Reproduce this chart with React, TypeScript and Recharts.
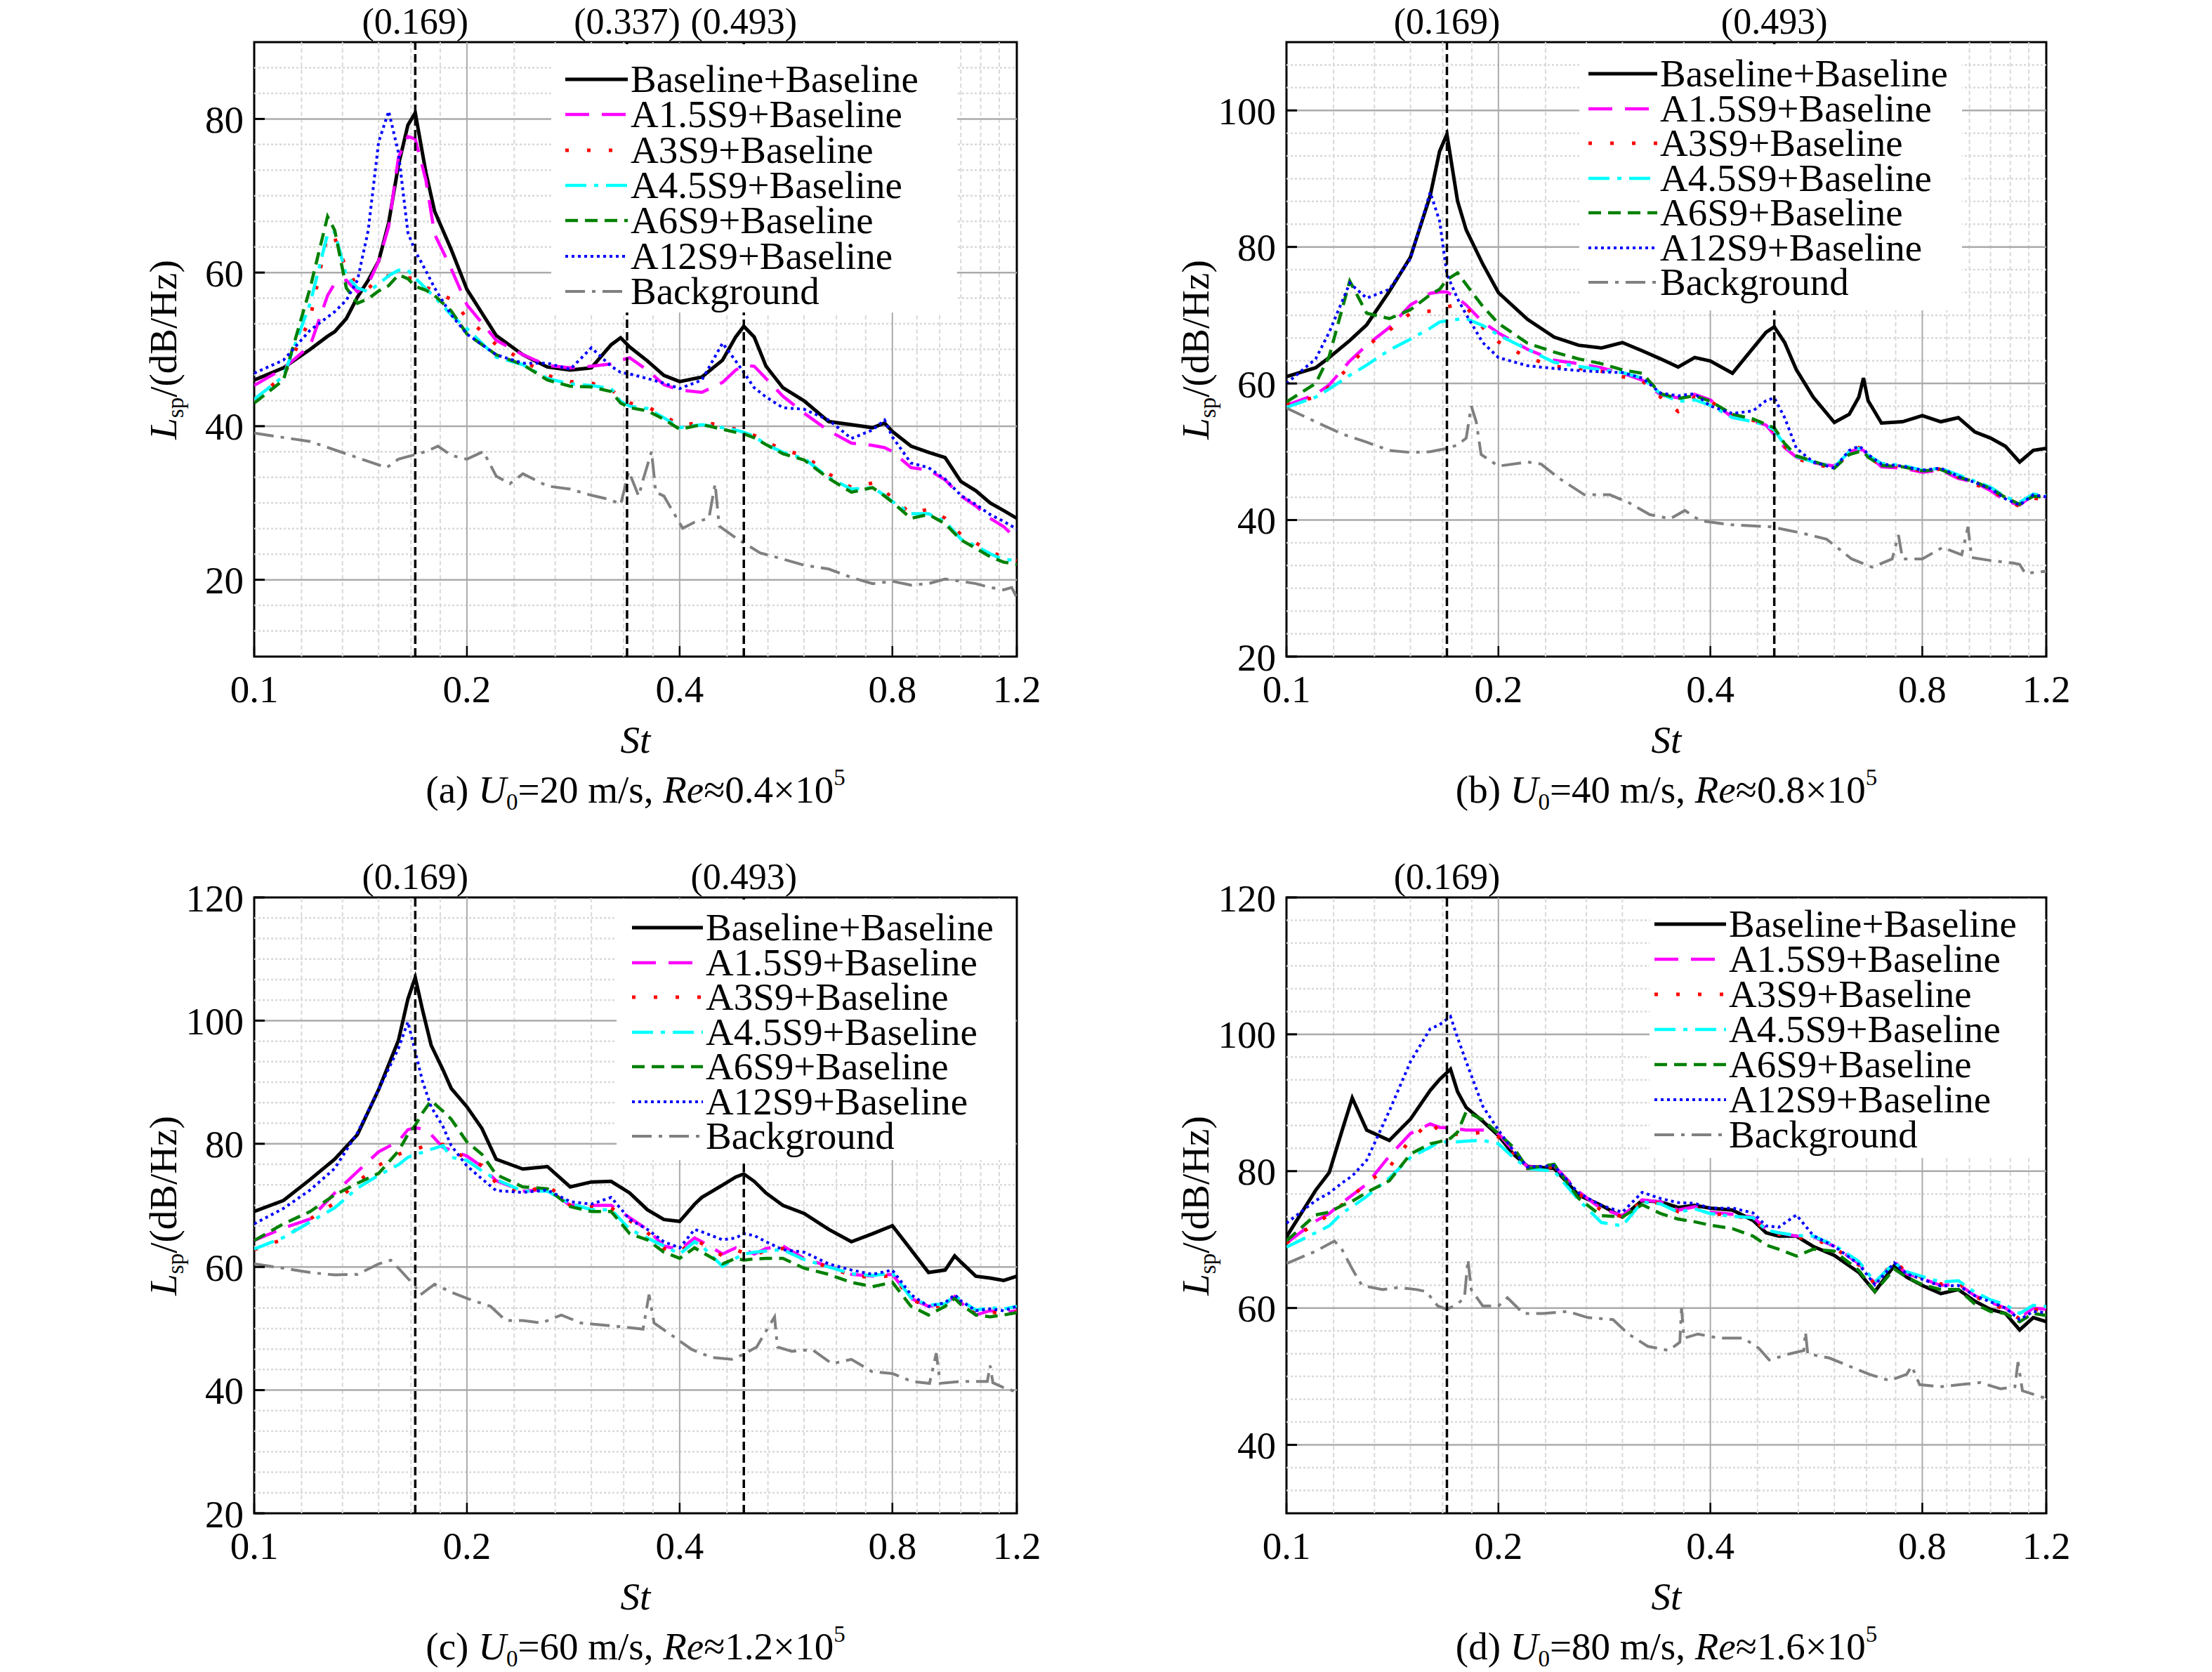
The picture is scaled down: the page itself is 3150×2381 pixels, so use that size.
import React from 'react';
import { LineChart, Line, XAxis, YAxis, ReferenceLine, ReferenceArea } from 'recharts';

const FONT = "'Liberation Serif', 'Times New Roman', Times, serif";

// ---------------- shared axis values ----------------
const X_TICKS = [0.1, 0.2, 0.4, 0.8, 1.2];
const X_MAJOR_GRID = [0.2, 0.4, 0.8];

const SERIES_NAMES = [
  'Baseline+Baseline',
  'A1.5S9+Baseline',
  'A3S9+Baseline',
  'A4.5S9+Baseline',
  'A6S9+Baseline',
  'A12S9+Baseline',
  'Background',
];

// ---------------- (a) U0 = 20 m/s ----------------
const ST_A = [0.1, 0.11, 0.12, 0.127, 0.13, 0.135, 0.14, 0.145, 0.15, 0.155, 0.16, 0.165, 0.169, 0.175, 0.18, 0.19, 0.2, 0.22, 0.24, 0.26, 0.28, 0.3, 0.32, 0.33, 0.34, 0.36, 0.38, 0.4, 0.43, 0.46, 0.48, 0.493, 0.51, 0.53, 0.56, 0.6, 0.65, 0.7, 0.75, 0.78, 0.8, 0.85, 0.9, 0.95, 1.0, 1.05, 1.1, 1.15, 1.2];
const A_BASE = [46.0, 47.6, 50.0, 51.7, 52.3, 54.0, 56.8, 59.0, 61.5, 66.5, 74.0, 79.2, 80.8, 73.0, 68.0, 63.0, 57.8, 51.8, 49.3, 47.7, 47.3, 47.6, 50.6, 51.5, 50.3, 48.5, 46.6, 45.8, 46.4, 48.6, 51.6, 53.0, 51.6, 47.8, 45.0, 43.3, 40.6, 40.2, 39.8, 40.4, 39.3, 37.4, 36.6, 35.9, 32.8, 31.6, 30.0, 29.0, 28.0];
const A_A15 = [45.3, 47.5, 50.5, 57.0, 58.6, 59.0, 57.5, 58.5, 61.5, 66.0, 75.0, 77.7, 77.4, 72.0, 65.0, 60.5, 55.8, 51.2, 49.3, 47.9, 47.6, 47.8, 48.1, 48.6, 48.9, 47.3, 45.4, 44.7, 44.4, 45.7, 47.3, 47.9, 47.8, 46.2, 43.9, 41.7, 39.4, 37.8, 37.5, 37.2, 36.7, 34.6, 34.3, 33.0, 30.9, 29.6, 28.0, 26.9, 25.3];
const A_A3 = [43.5, 46.5, 54.0, 65.0, 64.5, 60.5, 58.2, 57.9, 59.3, 59.6, 59.4, 59.3, 59.2, 58.1, 57.6, 56.5, 54.1, 50.6, 48.6, 46.6, 45.8, 45.6, 44.8, 43.6, 43.0, 42.5, 41.4, 40.1, 40.5, 40.1, 39.6, 39.3, 38.8, 38.0, 36.9, 36.2, 33.8, 32.0, 32.6, 31.5, 30.7, 28.6, 29.2, 28.0, 25.9, 24.8, 23.7, 22.9, 22.5];
const A_A45 = [43.5, 46.5, 56.0, 65.0, 65.3, 59.6, 58.0, 57.5, 58.5, 59.6, 60.3, 60.3, 59.3, 57.9, 56.8, 54.5, 52.7, 49.0, 48.0, 46.2, 45.5, 45.3, 44.9, 43.2, 42.6, 42.3, 41.1, 39.8, 40.2, 39.8, 39.5, 39.2, 38.7, 37.6, 36.6, 35.8, 33.3, 31.8, 32.0, 31.0, 30.2, 28.6, 28.6, 27.6, 25.3, 24.4, 23.4, 22.6, 22.6];
const A_A6 = [43.0, 46.0, 58.0, 67.3, 65.5, 58.0, 56.0, 56.6, 57.6, 58.3, 59.7, 59.2, 58.2, 57.7, 57.0, 55.0, 52.0, 49.3, 48.0, 46.0, 45.2, 45.1, 44.5, 43.0, 42.4, 42.0, 40.9, 39.6, 40.2, 39.6, 39.2, 39.0, 38.5, 37.6, 36.4, 35.6, 33.2, 31.4, 32.0, 30.9, 30.1, 28.0, 28.5, 27.3, 25.2, 24.1, 23.0, 22.3, 22.0];
const A_A12 = [46.9, 48.6, 52.5, 54.2, 54.9, 56.4, 59.0, 65.5, 77.0, 81.0, 75.6, 65.2, 62.8, 60.2, 58.0, 54.5, 52.0, 49.3, 48.2, 48.2, 47.4, 50.2, 47.8, 47.0, 46.8, 46.2, 45.6, 44.9, 46.0, 50.8, 48.5, 47.0, 45.0, 43.8, 42.4, 42.2, 40.8, 38.4, 39.5, 40.8, 38.6, 35.2, 34.6, 33.1, 31.0, 29.8, 28.5, 27.6, 26.6];
const BG_ST_A = [0.1, 0.12, 0.14, 0.154, 0.16, 0.169, 0.175, 0.182, 0.19, 0.2, 0.211, 0.22, 0.23, 0.24, 0.26, 0.28, 0.3, 0.32, 0.33, 0.339, 0.35, 0.355, 0.365, 0.37, 0.38, 0.404, 0.42, 0.44, 0.449, 0.455, 0.483, 0.52, 0.56, 0.6, 0.65, 0.7, 0.75, 0.8, 0.85, 0.9, 0.95, 1.0, 1.05, 1.1, 1.15, 1.18, 1.2];
const BG_A = [39.1, 38.0, 35.9, 34.6, 35.7, 36.3, 36.7, 37.4, 36.2, 35.7, 36.7, 33.5, 32.5, 33.8, 32.2, 31.8, 31.0, 30.4, 29.8, 34.1, 30.9, 33.0, 36.7, 31.4, 30.9, 26.7, 27.5, 28.0, 32.5, 27.0, 25.3, 23.5, 22.7, 21.9, 21.4, 20.3, 19.5, 19.8, 19.3, 19.5, 20.1, 19.8, 19.5, 19.0, 18.7, 19.0, 17.7];
const Y_TICKS_A = [20, 40, 60, 80];
const MARKERS_A = [0.169, 0.337, 0.493];

// ---------------- (b) U0 = 40 m/s ----------------
const ST_B = [0.1, 0.11, 0.115, 0.123, 0.13, 0.14, 0.15, 0.16, 0.165, 0.169, 0.175, 0.18, 0.19, 0.2, 0.22, 0.24, 0.26, 0.28, 0.3, 0.32, 0.34, 0.36, 0.38, 0.4, 0.43, 0.46, 0.48, 0.493, 0.51, 0.53, 0.56, 0.6, 0.63, 0.65, 0.66, 0.67, 0.7, 0.75, 0.8, 0.85, 0.9, 0.95, 1.0, 1.05, 1.1, 1.15, 1.2];
const B_BASE = [61.0, 62.3, 63.8, 66.3, 68.6, 73.5, 78.5, 87.5, 94.0, 96.5, 86.7, 82.5, 77.5, 73.3, 69.4, 66.8, 65.6, 65.2, 66.0, 64.8, 63.6, 62.4, 63.8, 63.3, 61.5, 65.2, 67.5, 68.3, 66.0, 62.0, 58.0, 54.3, 55.5, 58.0, 60.8, 57.5, 54.2, 54.4, 55.3, 54.4, 55.0, 52.9, 52.0, 50.8, 48.5, 50.2, 50.5];
const B_A15 = [56.8, 58.4, 59.8, 63.3, 65.6, 68.2, 71.5, 73.2, 73.4, 73.4, 72.5, 71.5, 69.0, 67.4, 65.0, 63.4, 62.9, 62.3, 61.5, 60.5, 58.3, 57.9, 58.4, 57.6, 55.0, 54.5, 53.9, 52.5, 50.6, 49.2, 48.4, 47.9, 50.0, 50.4, 50.2, 49.5, 47.8, 47.6, 47.0, 47.3, 46.1, 45.5, 44.3, 42.8, 42.2, 43.7, 43.4];
const B_A3 = [57.0, 58.0, 59.5, 62.5, 65.5, 67.8, 70.3, 70.6, 70.7, 71.2, 71.6, 71.2, 68.2, 66.1, 63.8, 62.5, 62.2, 61.8, 61.0, 60.4, 58.0, 55.9, 58.0, 57.4, 55.3, 54.6, 54.0, 53.0, 50.8, 49.0, 48.2, 47.6, 49.8, 50.6, 50.0, 49.2, 48.0, 47.9, 47.1, 47.5, 46.3, 45.2, 44.5, 43.0, 42.0, 43.2, 43.0];
const B_A45 = [56.5, 58.0, 59.2, 61.2, 62.7, 64.9, 66.5, 68.1, 69.0, 69.2, 69.4, 69.5, 68.5, 67.1, 65.0, 63.1, 62.5, 62.0, 61.6, 60.8, 58.5, 57.4, 57.6, 56.8, 55.0, 54.4, 53.9, 53.2, 51.0, 49.3, 48.5, 47.8, 50.0, 50.5, 50.0, 49.5, 48.3, 48.0, 47.3, 47.6, 46.6, 45.7, 44.8, 43.4, 42.6, 43.8, 43.6];
const B_A6 = [57.3, 60.0, 64.0, 75.0, 70.3, 69.5, 70.8, 73.0, 73.8, 75.2, 76.2, 74.5, 71.3, 68.8, 65.9, 64.6, 63.6, 62.9, 62.0, 61.5, 58.5, 57.8, 58.2, 57.4, 55.5, 54.8, 54.0, 53.5, 51.2, 49.4, 48.6, 47.6, 49.6, 50.0, 50.0, 49.2, 48.0, 47.8, 47.2, 47.4, 46.3, 45.6, 44.6, 43.3, 42.3, 43.5, 43.3];
const B_A12 = [60.0, 63.6, 67.5, 74.7, 72.5, 73.8, 78.3, 88.0, 83.8, 76.0, 72.4, 70.1, 66.0, 63.8, 62.6, 62.2, 61.9, 61.7, 61.6, 60.8, 58.6, 58.2, 58.5, 56.7, 55.6, 56.0, 57.5, 57.9, 55.0, 50.5, 48.5, 47.6, 50.2, 50.8, 50.4, 49.6, 48.2, 47.9, 47.3, 47.6, 46.4, 45.5, 44.6, 43.1, 42.2, 43.7, 43.4];
const BG_ST_B = [0.1, 0.11, 0.12, 0.13, 0.14, 0.15, 0.16, 0.169, 0.175, 0.18, 0.183, 0.186, 0.189, 0.2, 0.22, 0.23, 0.244, 0.265, 0.288, 0.307, 0.328, 0.351, 0.368, 0.387, 0.428, 0.488, 0.539, 0.585, 0.635, 0.679, 0.725, 0.74, 0.75, 0.8, 0.855, 0.91, 0.929, 0.94, 1.01, 1.077, 1.1, 1.12, 1.2];
const BG_B = [56.4, 54.4, 52.6, 51.4, 50.2, 49.9, 50.0, 50.5, 51.0, 52.0, 56.7, 54.4, 49.6, 47.9, 48.5, 48.2, 46.1, 43.7, 43.7, 42.5, 40.8, 40.2, 41.4, 39.9, 39.3, 39.0, 38.1, 37.2, 34.3, 33.1, 34.3, 37.8, 34.3, 34.3, 36.0, 34.9, 39.0, 34.5, 34.0, 33.7, 33.5, 32.2, 32.5];
const Y_TICKS_B = [20, 40, 60, 80, 100];
const MARKERS_B = [0.169, 0.493];

// ---------------- (c) U0 = 60 m/s ----------------
const ST_C = [0.1, 0.11, 0.12, 0.13, 0.14, 0.15, 0.16, 0.165, 0.169, 0.173, 0.178, 0.185, 0.19, 0.2, 0.21, 0.22, 0.24, 0.26, 0.28, 0.3, 0.32, 0.34, 0.36, 0.38, 0.4, 0.42, 0.43, 0.46, 0.48, 0.493, 0.51, 0.53, 0.56, 0.6, 0.65, 0.7, 0.75, 0.8, 0.85, 0.9, 0.95, 0.98, 1.0, 1.05, 1.1, 1.15, 1.2];
const C_BASE = [69.0, 70.8, 74.2, 77.5, 81.5, 88.8, 96.8, 103.5, 107.0, 101.8, 96.0, 92.0, 89.0, 86.0, 82.5, 77.5, 75.9, 76.3, 73.0, 73.8, 73.9, 72.0, 69.3, 67.7, 67.4, 70.2, 71.3, 73.3, 74.6, 75.1, 73.9, 72.0, 70.0, 68.7, 66.1, 64.1, 65.4, 66.7, 62.8, 59.1, 59.5, 61.8, 60.8, 58.5, 58.2, 57.8, 58.5];
const C_A15 = [64.3, 66.3, 67.8, 72.0, 75.5, 78.7, 80.4, 82.3, 82.6, 82.4, 81.5, 79.4, 79.0, 78.0, 76.3, 74.0, 72.3, 72.6, 70.0, 70.0, 70.0, 68.0, 66.1, 63.4, 62.8, 64.7, 64.1, 62.1, 63.1, 62.8, 62.1, 63.0, 63.4, 61.4, 60.1, 58.8, 58.5, 58.8, 54.9, 53.6, 54.0, 55.2, 54.2, 52.2, 52.9, 52.6, 52.9];
const C_A3 = [62.8, 64.5, 67.8, 70.4, 73.8, 76.5, 78.3, 78.8, 79.1, 79.5, 79.8, 79.9, 79.0, 77.6, 76.5, 73.6, 72.0, 73.3, 70.0, 69.8, 69.6, 67.5, 65.6, 63.0, 62.4, 64.5, 63.8, 61.8, 62.8, 62.3, 62.0, 62.6, 63.0, 61.2, 60.0, 58.6, 58.3, 58.6, 54.8, 53.4, 53.8, 55.0, 54.0, 52.4, 52.7, 52.4, 52.7];
const C_A45 = [62.9, 64.8, 67.3, 69.6, 72.8, 74.9, 76.6, 77.8, 78.3, 78.6, 79.1, 79.7, 77.8, 77.3, 75.6, 74.2, 72.3, 72.3, 70.3, 69.3, 69.3, 66.1, 64.7, 63.4, 62.1, 64.1, 63.4, 60.1, 61.4, 62.1, 62.4, 62.6, 62.8, 61.2, 60.0, 58.9, 58.6, 59.0, 55.0, 53.8, 54.0, 55.4, 54.6, 53.0, 53.4, 53.2, 53.6];
const C_A6 = [64.3, 67.0, 69.0, 71.7, 73.6, 75.2, 78.8, 81.5, 83.0, 85.0, 87.0, 85.3, 84.0, 80.3, 78.3, 75.0, 73.0, 72.7, 69.8, 69.0, 69.0, 65.4, 64.4, 62.4, 61.4, 63.1, 62.4, 60.5, 61.4, 61.1, 61.3, 61.4, 61.4, 59.8, 58.8, 57.5, 56.8, 57.5, 53.6, 52.2, 53.6, 54.9, 53.9, 52.2, 51.9, 52.2, 52.6];
const C_A12 = [67.0, 69.5, 72.5, 76.0, 81.8, 88.8, 95.5, 99.8, 95.0, 90.2, 86.0, 82.8, 79.7, 76.4, 74.3, 72.4, 72.1, 72.5, 70.6, 70.2, 71.3, 67.7, 66.1, 64.1, 63.1, 66.1, 65.7, 64.4, 64.7, 65.4, 65.1, 64.1, 62.8, 62.4, 60.5, 59.5, 58.8, 59.5, 55.5, 53.6, 54.2, 55.5, 54.5, 52.9, 53.2, 52.9, 53.6];
const BG_ST_C = [0.1, 0.11, 0.12, 0.13, 0.14, 0.15, 0.156, 0.16, 0.166, 0.169, 0.172, 0.18, 0.19, 0.2, 0.216, 0.227, 0.24, 0.255, 0.272, 0.29, 0.31, 0.33, 0.355, 0.362, 0.368, 0.39, 0.416, 0.444, 0.474, 0.49, 0.514, 0.545, 0.55, 0.577, 0.616, 0.657, 0.7, 0.749, 0.8, 0.853, 0.903, 0.923, 0.935, 1.0, 1.09, 1.1, 1.11, 1.15, 1.2];
const BG_C = [60.5, 59.8, 59.1, 58.7, 58.8, 60.5, 61.1, 59.8, 57.8, 56.8, 55.5, 57.2, 55.9, 54.9, 53.6, 51.3, 51.3, 50.9, 52.2, 50.9, 50.6, 50.3, 49.9, 55.5, 50.9, 48.9, 46.6, 45.3, 45.0, 45.7, 47.0, 51.9, 47.0, 46.3, 46.6, 44.3, 45.0, 43.0, 42.7, 41.4, 41.1, 46.0, 41.1, 41.4, 41.4, 44.0, 41.2, 40.4, 39.7];
const Y_TICKS_C = [20, 40, 60, 80, 100, 120];
const MARKERS_C = [0.169, 0.493];

// ---------------- (d) U0 = 80 m/s ----------------
const ST_D = [0.1, 0.11, 0.115, 0.12, 0.124, 0.13, 0.14, 0.15, 0.16, 0.165, 0.171, 0.175, 0.18, 0.19, 0.2, 0.21, 0.22, 0.24, 0.26, 0.28, 0.3, 0.32, 0.34, 0.36, 0.38, 0.4, 0.43, 0.46, 0.48, 0.5, 0.53, 0.56, 0.6, 0.65, 0.685, 0.73, 0.76, 0.8, 0.85, 0.9, 0.95, 1.0, 1.05, 1.1, 1.15, 1.2];
const D_BASE = [70.4, 77.2, 79.8, 86.0, 90.7, 86.0, 84.5, 87.6, 91.8, 93.4, 94.9, 91.6, 89.3, 87.3, 85.2, 82.5, 80.7, 80.4, 76.5, 75.0, 73.3, 75.7, 75.5, 74.7, 75.0, 74.6, 74.3, 72.8, 71.0, 70.5, 70.5, 69.0, 67.7, 65.2, 62.4, 66.2, 64.5, 63.3, 62.1, 62.7, 61.0, 59.8, 59.2, 56.8, 58.6, 58.0];
const D_A15 = [69.5, 72.7, 73.8, 75.4, 76.5, 78.1, 82.2, 85.5, 86.9, 86.4, 86.3, 86.2, 86.0, 86.0, 85.5, 83.0, 80.6, 80.8, 77.0, 74.5, 73.5, 75.8, 75.5, 74.3, 74.8, 74.0, 73.7, 73.3, 71.5, 71.0, 70.5, 70.4, 69.0, 66.5, 63.6, 66.8, 65.0, 64.3, 63.3, 63.5, 61.8, 60.8, 60.0, 58.5, 60.0, 59.8];
const D_A3 = [69.5, 72.4, 73.6, 75.1, 76.3, 78.3, 80.6, 84.6, 87.2, 85.8, 85.4, 85.4, 85.4, 85.7, 85.0, 82.5, 80.4, 80.6, 76.7, 74.3, 73.3, 75.6, 75.3, 74.1, 74.6, 73.8, 73.5, 73.0, 71.3, 70.8, 70.3, 70.2, 68.8, 66.3, 63.5, 66.9, 65.2, 64.5, 63.5, 63.7, 61.7, 60.6, 59.8, 58.4, 59.8, 59.6];
const D_A45 = [68.9, 71.0, 72.0, 73.9, 74.8, 76.3, 79.0, 82.0, 83.5, 84.3, 84.3, 84.3, 84.4, 84.5, 84.0, 82.0, 80.4, 80.0, 75.8, 72.5, 72.0, 75.5, 75.2, 74.0, 74.5, 73.8, 73.4, 73.2, 71.4, 71.0, 70.6, 70.5, 69.2, 66.8, 63.8, 66.6, 65.3, 64.6, 63.8, 64.0, 62.3, 61.2, 60.5, 59.2, 60.4, 60.2];
const D_A6 = [69.8, 73.6, 74.0, 75.0, 75.6, 76.9, 78.6, 82.5, 84.0, 84.3, 84.8, 85.7, 88.7, 87.5, 85.5, 83.5, 80.4, 81.0, 76.0, 73.5, 73.3, 75.1, 73.8, 73.0, 72.6, 72.1, 71.6, 70.5, 69.2, 68.6, 67.6, 68.6, 68.3, 65.5, 62.4, 65.7, 64.5, 63.4, 62.7, 62.7, 60.6, 59.5, 59.2, 58.0, 59.2, 58.9];
const D_A12 = [72.4, 75.7, 76.8, 78.3, 79.3, 81.6, 88.8, 96.0, 100.8, 101.4, 102.6, 99.5, 96.0, 89.5, 86.0, 83.0, 80.6, 80.8, 76.8, 75.0, 74.0, 76.9, 76.0, 75.4, 75.3, 74.6, 74.6, 73.9, 72.0, 71.8, 73.6, 70.6, 69.0, 66.4, 63.4, 66.6, 65.0, 64.2, 63.2, 63.3, 61.8, 60.9, 60.0, 58.3, 59.5, 59.3];
const BG_ST_D = [0.1, 0.11, 0.117, 0.12, 0.124, 0.128, 0.137, 0.144, 0.153, 0.158, 0.164, 0.169, 0.175, 0.179, 0.181, 0.183, 0.19, 0.2, 0.206, 0.217, 0.231, 0.251, 0.268, 0.291, 0.306, 0.326, 0.349, 0.362, 0.364, 0.367, 0.384, 0.411, 0.446, 0.469, 0.485, 0.518, 0.543, 0.546, 0.55, 0.59, 0.63, 0.673, 0.719, 0.76, 0.773, 0.793, 0.848, 0.905, 0.967, 1.033, 1.083, 1.094, 1.11, 1.2];
const BG_D = [66.5, 68.3, 69.8, 68.5, 65.7, 63.3, 62.7, 63.0, 62.7, 62.4, 60.3, 59.8, 60.6, 61.5, 67.1, 62.7, 60.3, 60.3, 61.5, 59.2, 59.2, 59.5, 58.6, 58.3, 56.2, 54.4, 53.8, 55.0, 60.0, 55.6, 56.2, 55.6, 55.6, 54.1, 52.4, 53.3, 53.8, 56.5, 53.3, 52.7, 51.5, 50.3, 49.4, 50.3, 51.5, 48.8, 48.5, 48.8, 49.1, 48.2, 48.5, 52.1, 47.9, 46.8];
const Y_TICKS_D = [40, 60, 80, 100, 120];
const MARKERS_D = [0.169];

// ---------------- styles ----------------
const STYLES = [
  { color: '#000000', width: 5, dash: undefined },
  { color: '#FF00FF', width: 4.5, dash: '34 18' },
  { color: '#FF0000', width: 5, dash: '5 26' },
  { color: '#00FFFF', width: 4.5, dash: '30 11 6 11' },
  { color: '#008000', width: 4.5, dash: '18 10' },
  { color: '#0000FF', width: 4, dash: '4 5' },
  { color: '#808080', width: 4, dash: '28 10 5 10' },
];

const PANELS = [
  {
    id: 'a', u: '20', re: '0.4',
    st: ST_A, series: [A_BASE, A_A15, A_A3, A_A45, A_A6, A_A12], bgSt: BG_ST_A, bg: BG_A,
    yDomain: [10, 90], yTicks: Y_TICKS_A, markers: MARKERS_A,
    plot: { left: 362, top: 60, w: 1086, h: 875 },
    legend: { left: 785, top: 63, right: 1363, bottom: 445, sampleX: 805, textX: 898, firstRow: 113, gap: 50.3 },
  },
  {
    id: 'b', u: '40', re: '0.8',
    st: ST_B, series: [B_BASE, B_A15, B_A3, B_A45, B_A6, B_A12], bgSt: BG_ST_B, bg: BG_B,
    yDomain: [20, 110], yTicks: Y_TICKS_B, markers: MARKERS_B,
    plot: { left: 1832, top: 60, w: 1082, h: 875 },
    legend: { left: 2249, top: 63, right: 2794, bottom: 442, sampleX: 2262, textX: 2364, firstRow: 105, gap: 49.5 },
  },
  {
    id: 'c', u: '60', re: '1.2',
    st: ST_C, series: [C_BASE, C_A15, C_A3, C_A45, C_A6, C_A12], bgSt: BG_ST_C, bg: BG_C,
    yDomain: [20, 120], yTicks: Y_TICKS_C, markers: MARKERS_C,
    plot: { left: 362, top: 1278, w: 1086, h: 877 },
    legend: { left: 878, top: 1281, right: 1446, bottom: 1652, sampleX: 900, textX: 1005, firstRow: 1321, gap: 49.5 },
  },
  {
    id: 'd', u: '80', re: '1.6',
    st: ST_D, series: [D_BASE, D_A15, D_A3, D_A45, D_A6, D_A12], bgSt: BG_ST_D, bg: BG_D,
    yDomain: [30, 120], yTicks: Y_TICKS_D, markers: MARKERS_D,
    plot: { left: 1832, top: 1278, w: 1082, h: 877 },
    legend: { left: 2349, top: 1281, right: 2912, bottom: 1649, sampleX: 2356, textX: 2462, firstRow: 1316, gap: 50 },
  },
];

// minor grid: each major interval split in six
const X_MINOR = X_TICKS.slice(0, -1).flatMap((a, i) => {
  const b = X_TICKS[i + 1];
  return [1, 2, 3, 4, 5].map((k) => a + ((b - a) * k) / 6);
});

function minorY([lo, hi]: number[]) {
  const out: number[] = [];
  for (let k = Math.ceil((lo * 3) / 10); (k * 10) / 3 < hi - 0.01; k++) {
    const v = (k * 10) / 3;
    if (k % 6 !== 0 && v > lo + 0.01) out.push(v);
  }
  return out;
}

const toRows = (st: number[], vals: number[]) => st.map((s, i) => ({ st: s, v: vals[i] }));

const subStyle: React.CSSProperties = { fontSize: '0.6em', position: 'relative', top: '0.3em', verticalAlign: 'baseline' };
const supStyle: React.CSSProperties = { fontSize: '0.6em', position: 'relative', top: '-0.75em', verticalAlign: 'baseline' };

function LegendBox({ lg }: { lg: any }) {
  const sampleW = lg.textX - lg.sampleX - 4;
  return (
    <div
      style={{
        position: 'absolute',
        left: lg.left,
        top: lg.top,
        width: lg.right - lg.left,
        height: lg.bottom - lg.top,
        background: '#fff',
      }}
    >
      {SERIES_NAMES.map((name, i) => {
        const s = STYLES[i];
        return (
          <div
            key={name}
            style={{
              position: 'absolute',
              left: lg.sampleX - lg.left,
              top: lg.firstRow + i * lg.gap - lg.top - 25,
              height: 50,
              display: 'flex',
              alignItems: 'center',
              whiteSpace: 'nowrap',
            }}
          >
            <svg width={sampleW} height={20} style={{ display: 'block' }}>
              <line x1={0} y1={10} x2={sampleW} y2={10} stroke={s.color} strokeWidth={s.width} strokeDasharray={s.dash} />
            </svg>
            <span style={{ marginLeft: 4, fontSize: 55, lineHeight: '50px', fontFamily: FONT, color: '#000' }}>{name}</span>
          </div>
        );
      })}
    </div>
  );
}

function Panel({ p }: { p: any }) {
  const ML = 200;
  const MT = 80;
  const MR = 60;
  const XH = 120;
  const { left, top, w, h } = p.plot;
  const [lo, hi] = p.yDomain;
  const cx = left + w / 2;
  const tickStyle = { fill: '#000', fontSize: 55, fontFamily: FONT };

  return (
    <>
      <div style={{ position: 'absolute', left: left - ML, top: top - MT }}>
        <LineChart width={ML + w + MR} height={MT + h + XH} margin={{ top: MT, right: MR, bottom: 0, left: 0 }}>
          <XAxis
            type="number"
            dataKey="st"
            scale="log"
            domain={[0.1, 1.2]}
            ticks={X_TICKS}
            interval={0}
            allowDataOverflow
            height={XH}
            axisLine={false}
            tickLine={{ stroke: '#000', strokeWidth: 2.5 }}
            tickSize={-15}
            tickMargin={41}
            tick={tickStyle}
            tickFormatter={(v: number) => String(v)}
          />
          <YAxis
            type="number"
            domain={p.yDomain}
            ticks={p.yTicks}
            interval={0}
            allowDataOverflow
            width={ML}
            axisLine={false}
            tickLine={{ stroke: '#000', strokeWidth: 3 }}
            tickSize={-15}
            tickMargin={30}
            tick={tickStyle}
          />
          {X_MINOR.map((v) => (
            <ReferenceLine key={'xm' + v} x={v} stroke="#d9d9d9" strokeWidth={2} strokeDasharray="6 4" />
          ))}
          {minorY(p.yDomain).map((v) => (
            <ReferenceLine key={'ym' + v} y={v} stroke="#d9d9d9" strokeWidth={2.5} strokeDasharray="3 3" />
          ))}
          {X_MAJOR_GRID.map((v) => (
            <ReferenceLine key={'xg' + v} x={v} stroke="#ababab" strokeWidth={2} />
          ))}
          {p.yTicks
            .filter((v: number) => v > lo && v < hi)
            .map((v: number) => (
              <ReferenceLine key={'yg' + v} y={v} stroke="#ababab" strokeWidth={2.5} />
            ))}
          {p.series.map((vals: number[], i: number) => (
            <Line
              key={SERIES_NAMES[i]}
              name={SERIES_NAMES[i]}
              data={toRows(p.st, vals)}
              dataKey="v"
              type="linear"
              stroke={STYLES[i].color}
              strokeWidth={STYLES[i].width}
              strokeDasharray={STYLES[i].dash}
              dot={false}
              activeDot={false}
              isAnimationActive={false}
            />
          ))}
          <Line
            name="Background"
            data={toRows(p.bgSt, p.bg)}
            dataKey="v"
            type="linear"
            stroke={STYLES[6].color}
            strokeWidth={STYLES[6].width}
            strokeDasharray={STYLES[6].dash}
            dot={false}
            activeDot={false}
            isAnimationActive={false}
          />
          {p.markers.map((m: number) => (
            <ReferenceLine
              key={'mk' + m}
              x={m}
              stroke="#000"
              strokeWidth={3.5}
              strokeDasharray="12 6"
              label={{ value: `(${m})`, position: 'top', offset: 12, fill: '#000', fontSize: 52, fontFamily: FONT }}
            />
          ))}
          <ReferenceArea x1={0.1} x2={1.2} y1={lo} y2={hi} fill="none" fillOpacity={0} stroke="#000" strokeWidth={3} ifOverflow="visible" />
        </LineChart>
      </div>

      <LegendBox lg={p.legend} />

      <div
        style={{
          position: 'absolute',
          left: left - 130,
          top: top + h / 2,
          transform: 'translate(-50%, -50%) rotate(-90deg)',
          fontSize: 55,
          fontFamily: FONT,
          whiteSpace: 'nowrap',
          lineHeight: 1,
        }}
      >
        <i>L</i>
        <span style={subStyle}>sp</span>/(dB/Hz)
      </div>

      <div
        style={{
          position: 'absolute',
          left: cx,
          top: top + h + 118,
          transform: 'translate(-50%, -50%)',
          fontSize: 55,
          fontFamily: FONT,
          fontStyle: 'italic',
          lineHeight: 1,
        }}
      >
        St
      </div>

      <div
        style={{
          position: 'absolute',
          left: cx,
          top: top + h + 189,
          transform: 'translate(-50%, -50%)',
          fontSize: 55,
          fontFamily: FONT,
          whiteSpace: 'nowrap',
          lineHeight: 1,
        }}
      >
        ({p.id}) <i>U</i>
        <span style={subStyle}>0</span>={p.u} m/s, <i>Re</i>≈{p.re}×10<span style={supStyle}>5</span>
      </div>
    </>
  );
}

export default function App() {
  return (
    <div
      style={{
        position: 'absolute',
        left: 0,
        top: 0,
        width: 3150,
        height: 2381,
        background: '#fff',
        overflow: 'hidden',
        fontFamily: FONT,
        color: '#000',
      }}
    >
      {PANELS.map((p) => (
        <Panel key={p.id} p={p} />
      ))}
    </div>
  );
}
